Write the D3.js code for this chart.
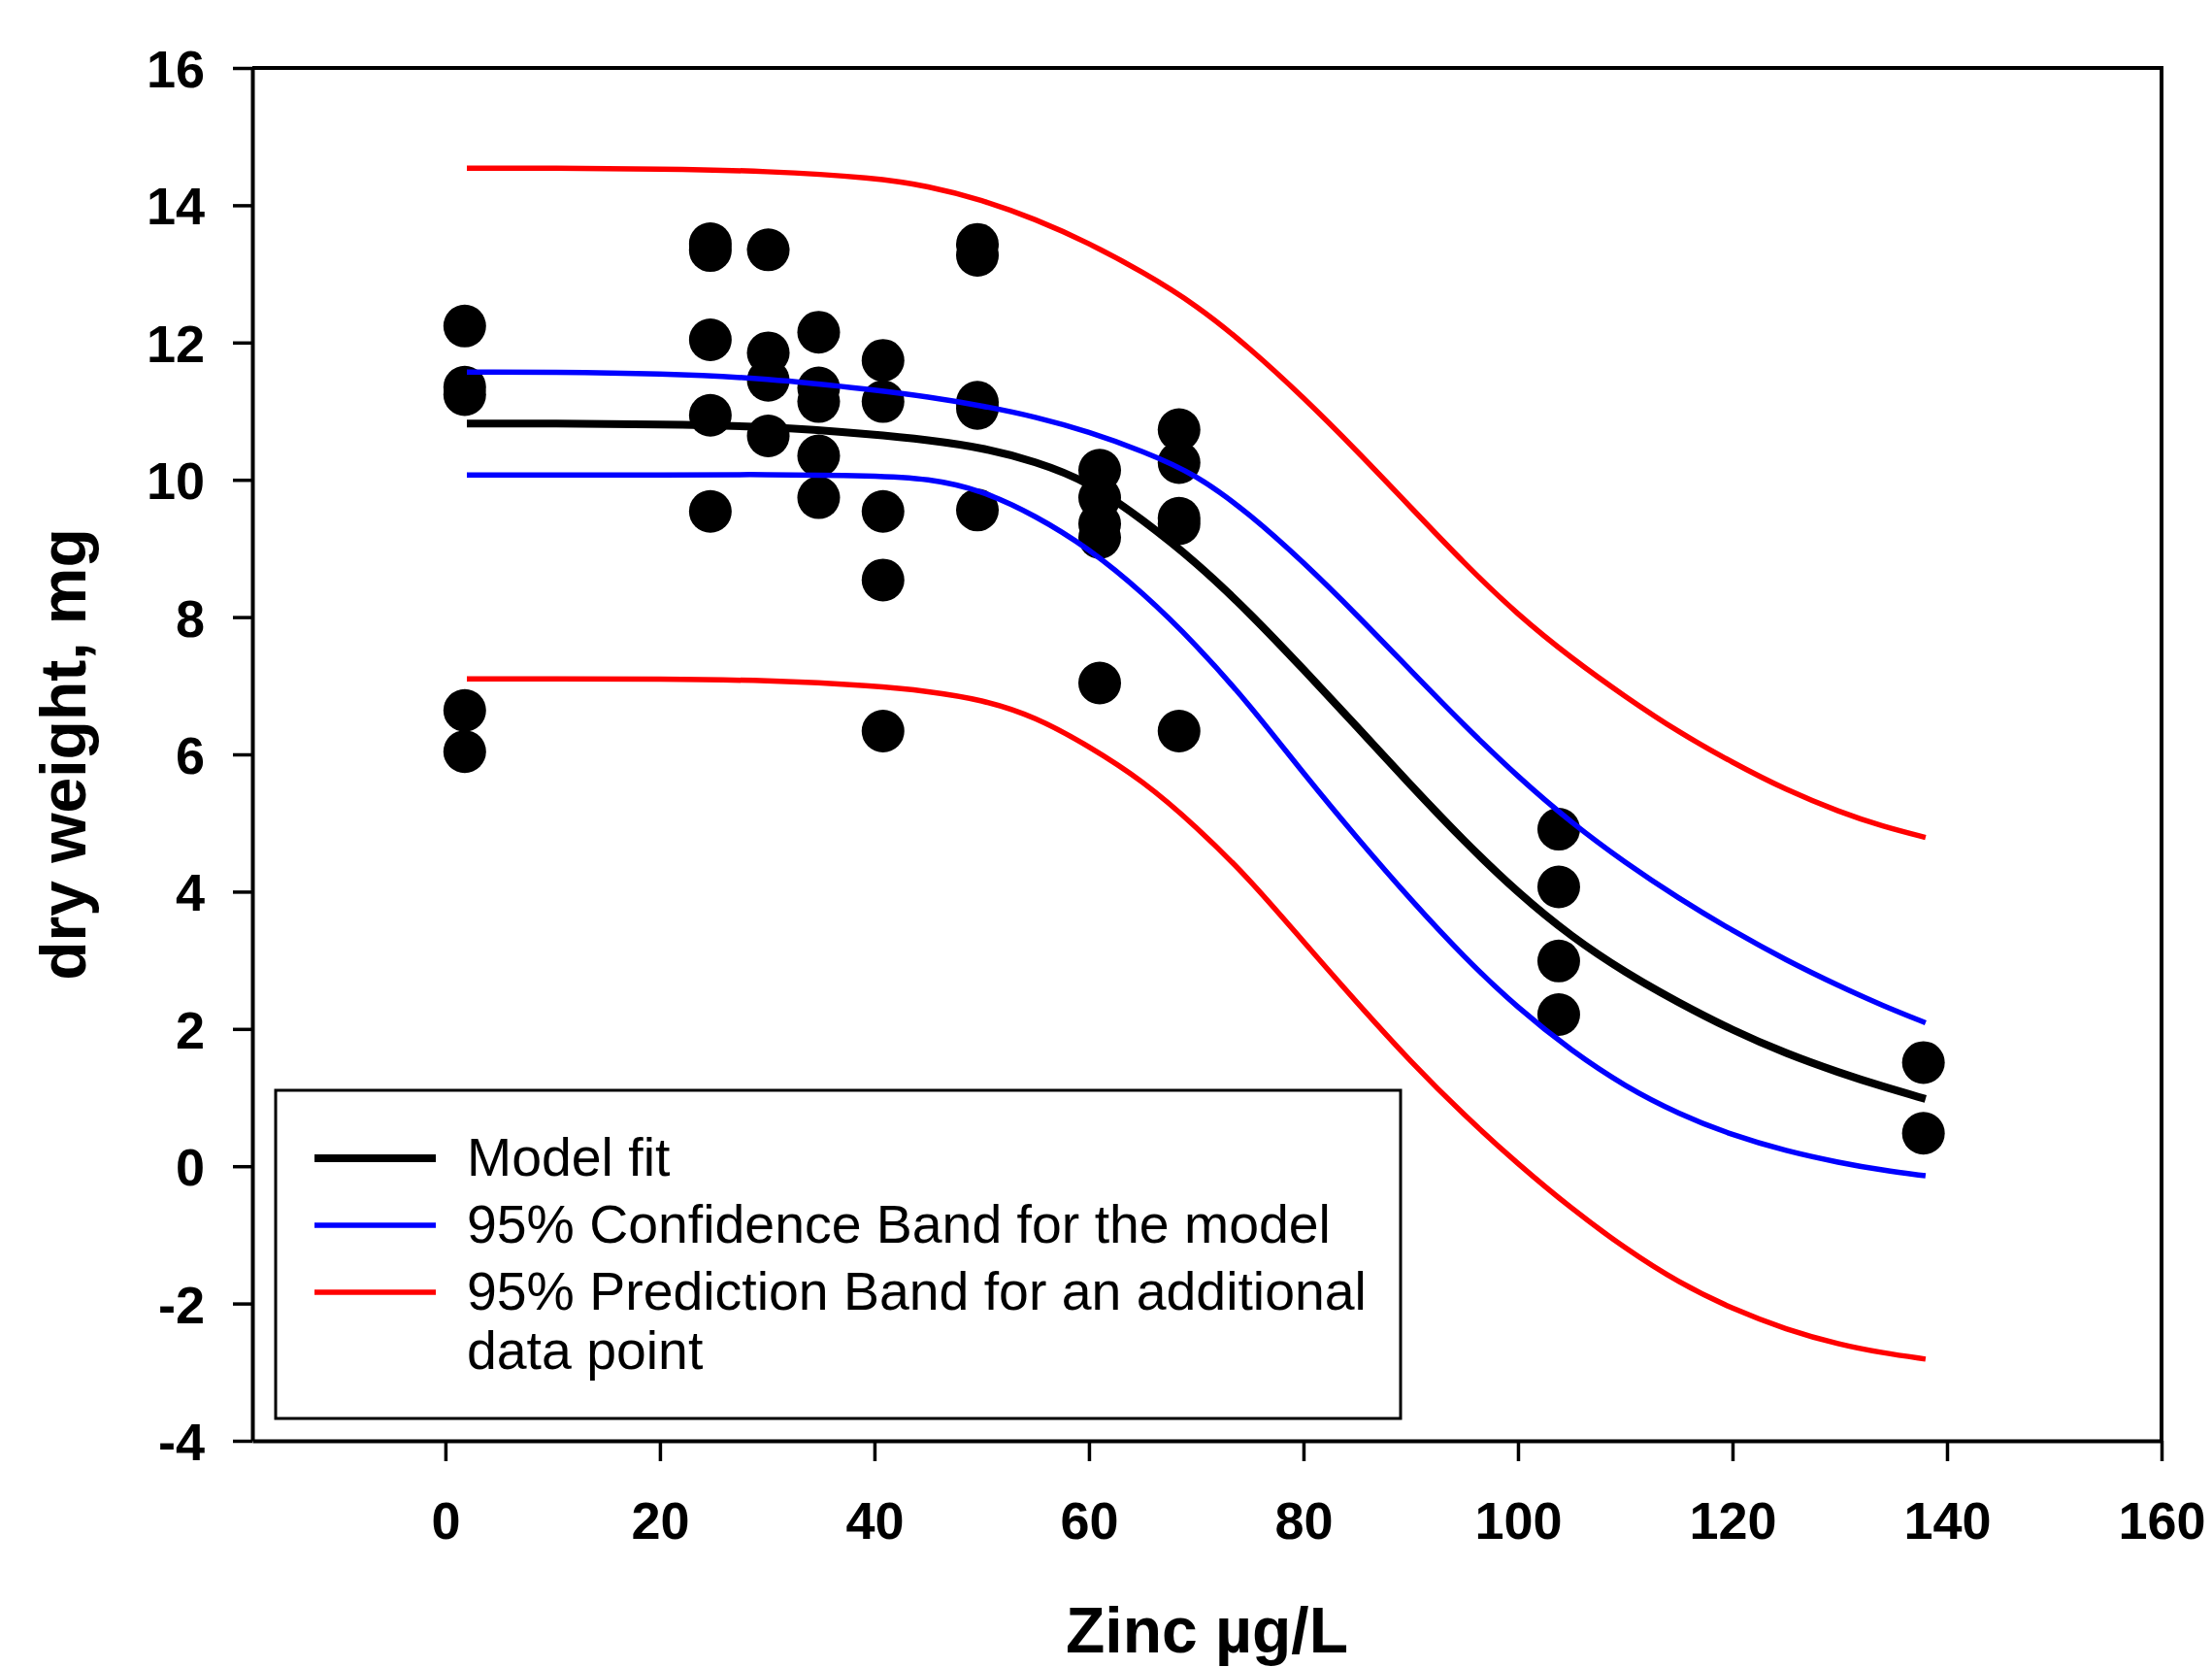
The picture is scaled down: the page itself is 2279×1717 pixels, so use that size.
<!DOCTYPE html>
<html>
<head>
<meta charset="utf-8">
<script src="https://cdn.jsdelivr.net/npm/d3@7"></script>
<style>
  body { margin: 0; background: #fff; }
  svg { display: block; }
</style>
</head>
<body>
<div id="chart"></div>
<script>
// observed points (zinc, dry weight)
const pointX = [
    1.8, 1.8, 1.8, 1.8, 1.8,
    24.7, 24.7, 24.7, 24.7, 24.7,
    30.1, 30.1, 30.1, 30.1,
    34.8, 34.8, 34.8, 34.8, 34.8,
    40.8, 40.8, 40.8, 40.8, 40.8,
    49.6, 49.6, 49.6, 49.6, 49.6,
    61.0, 61.0, 61.0, 61.0, 61.0,
    68.4, 68.4, 68.4, 68.4, 68.4,
    103.8, 103.8, 103.8, 103.8,
    137.8, 137.8
];
const pointY = [
    12.24, 11.35, 11.24, 6.64, 6.04,
    13.44, 13.34, 12.04, 10.94, 9.54,
    13.35, 11.85, 11.45, 10.64,
    12.15, 11.34, 11.14, 10.35, 9.74,
    11.74, 11.14, 9.54, 8.54, 6.34,
    13.43, 13.27, 11.13, 11.04, 9.56,
    10.14, 9.74, 9.36, 9.16, 7.04,
    10.73, 10.25, 9.44, 9.36, 6.34,
    4.91, 4.07, 2.99, 2.21,
    1.51, 0.48
];

// curves
const curveX = [2, 10, 20, 30, 40, 45, 50, 55, 60, 65, 70, 75, 80, 85, 90, 95, 100, 105, 110, 115, 120, 125, 130, 134, 138];
const modelFit = [10.82, 10.82, 10.81, 10.78, 10.66, 10.58, 10.47, 10.27, 9.97, 9.42, 8.80, 8.06, 7.24, 6.40, 5.55, 4.73, 3.98, 3.34, 2.82, 2.38, 1.98, 1.64, 1.36, 1.16, 0.98];
const confUpper = [11.57, 11.57, 11.55, 11.48, 11.31, 11.21, 11.08, 10.92, 10.70, 10.42, 10.08, 9.50, 8.80, 8.03, 7.22, 6.42, 5.67, 5.00, 4.42, 3.90, 3.43, 3.00, 2.62, 2.34, 2.09];
const confLower = [10.07, 10.07, 10.07, 10.08, 10.06, 10.02, 9.85, 9.48, 9.00, 8.36, 7.60, 6.72, 5.72, 4.78, 3.88, 3.04, 2.30, 1.68, 1.16, 0.76, 0.45, 0.22, 0.05, -0.06, -0.14];
const predUpper = [14.54, 14.54, 14.53, 14.50, 14.40, 14.28, 14.08, 13.80, 13.45, 13.03, 12.55, 11.92, 11.20, 10.42, 9.60, 8.78, 8.03, 7.40, 6.84, 6.32, 5.88, 5.48, 5.16, 4.95, 4.79];
const predLower = [7.10, 7.10, 7.10, 7.08, 7.00, 6.92, 6.80, 6.55, 6.12, 5.62, 4.95, 4.18, 3.27, 2.38, 1.52, 0.74, 0.03, -0.62, -1.20, -1.70, -2.08, -2.38, -2.60, -2.72, -2.81];

const xTicks = [0, 20, 40, 60, 80, 100, 120, 140, 160];
const yTicks = [-4, -2, 0, 2, 4, 6, 8, 10, 12, 14, 16];

const legendItems = [
    { label: ["Model fit"], color: "#000000", width: 8 },
    { label: ["95% Confidence Band for the model"], color: "#0000ff", width: 5.5 },
    { label: ["95% Prediction Band for an additional", "data point"], color: "#ff0000", width: 5.5 }
];

const width = 2279,
    height = 1717,
    margin = { top: 70, right: 52, bottom: 233, left: 260 };

const font = "'Liberation Sans', Arial, Helvetica, sans-serif";

const svg = d3.select("#chart").append("svg")
    .attr("width", width)
    .attr("height", height);

const xScale = d3.scaleLinear()
    .domain([-18, 160])
    .range([margin.left, width - margin.right]);

const yScale = d3.scaleLinear()
    .domain([-4, 16])
    .range([height - margin.bottom, margin.top]);

// points go under the lines
svg.append("g")
    .selectAll("circle")
    .data(pointX.map((x, i) => [x, pointY[i]]))
    .enter()
    .append("circle")
    .attr("cx", d => xScale(d[0]))
    .attr("cy", d => yScale(d[1]))
    .attr("r", 22)
    .attr("fill", "#000");

const line = d3.line()
    .x(d => xScale(d[0]))
    .y(d => yScale(d[1]))
    .curve(d3.curveBasis);

const curves = [
    { values: predUpper, color: "#ff0000", w: 5.5 },
    { values: predLower, color: "#ff0000", w: 5.5 },
    { values: confUpper, color: "#0000ff", w: 5.5 },
    { values: confLower, color: "#0000ff", w: 5.5 },
    { values: modelFit, color: "#000000", w: 8 }
];

curves.forEach(c => {
    svg.append("path")
        .datum(curveX.map((x, i) => [x, c.values[i]]))
        .attr("fill", "none")
        .attr("stroke", c.color)
        .attr("stroke-width", c.w)
        .attr("d", line);
});

// Axes (plain hyphen for negatives, as in the original)
const fmt = d => String(d);

const xAxis = svg.append("g")
    .attr("transform", `translate(0,${yScale(-4)})`)
    .call(d3.axisBottom(xScale).tickValues(xTicks).tickFormat(fmt)
        .tickSize(21).tickSizeOuter(0).tickPadding(42));

const yAxis = svg.append("g")
    .attr("transform", `translate(${xScale(-18)},0)`)
    .call(d3.axisLeft(yScale).tickValues(yTicks).tickFormat(fmt)
        .tickSize(20).tickSizeOuter(0).tickPadding(29));

[xAxis, yAxis].forEach(ax => {
    ax.select(".domain").attr("stroke", "#000").attr("stroke-width", 4);
    ax.selectAll(".tick line").attr("stroke", "#000").attr("stroke-width", 3.5);
    ax.selectAll("text")
        .attr("fill", "#000")
        .style("font-family", font)
        .style("font-weight", "bold")
        .style("font-size", "54px");
});
yAxis.selectAll("text").attr("dy", "0.36em");

// frame top and right
svg.append("path")
    .attr("d", `M${xScale(-18)},${yScale(16)}H${xScale(160)}V${yScale(-4)}`)
    .attr("fill", "none")
    .attr("stroke", "#000")
    .attr("stroke-width", 4);

// Axis labels
svg.append("text")
    .attr("x", (xScale(-18) + xScale(160)) / 2)
    .attr("y", 1702)
    .attr("text-anchor", "middle")
    .style("font-family", font)
    .style("font-weight", "bold")
    .style("font-size", "66px")
    .text("Zinc µg/L");

svg.append("text")
    .attr("x", -(yScale(-4) + yScale(16)) / 2)
    .attr("y", 88)
    .attr("transform", "rotate(-90)")
    .attr("text-anchor", "middle")
    .style("font-family", font)
    .style("font-weight", "bold")
    .style("font-size", "66px")
    .text("dry weight, mg");

// Legend
const legend = svg.append("g").attr("transform", "translate(284,1123)");

legend.append("rect")
    .attr("width", 1159)
    .attr("height", 338)
    .attr("fill", "#fff")
    .attr("stroke", "#000")
    .attr("stroke-width", 3);

const rowY = [70, 139, 208];
legendItems.forEach((item, i) => {
    legend.append("line")
        .attr("x1", 40)
        .attr("x2", 165)
        .attr("y1", rowY[i])
        .attr("y2", rowY[i])
        .attr("stroke", item.color)
        .attr("stroke-width", item.width);

    item.label.forEach((t, j) => {
        legend.append("text")
            .attr("x", 197)
            .attr("y", rowY[i] + 18 + j * 61)
            .style("font-family", font)
            .style("font-size", "55.4px")
            .text(t);
    });
});
</script>
</body>
</html>
